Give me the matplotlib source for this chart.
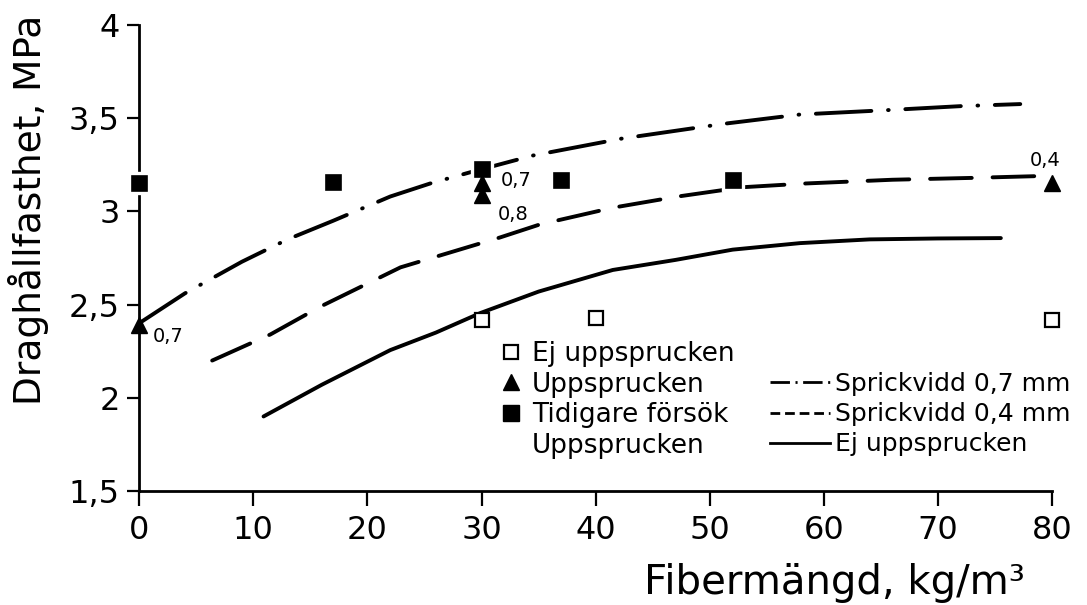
import matplotlib
matplotlib.use('Agg')
import matplotlib.pyplot as plt
from matplotlib.lines import Line2D

plt.rcParams['font.family'] = ['DejaVu Sans']
plt.rcParams['lines.scale_dashes'] = False

# points
open_x = [30, 40, 80]
open_y = [2.42, 2.43, 2.42]

tri_x = [0, 30, 30, 80]
tri_y = [2.39, 3.15, 3.09, 3.155]
tri_labels = ['0,7', '0,7', '0,8', '0,4']

prev_x = [0, 17, 30, 37, 52]
prev_y = [3.15, 3.16, 3.23, 3.17, 3.17]

# curves (hand drawn in the original)
c07_x = [0, 4, 9, 13, 17, 22, 25.5, 29, 34.5, 42.2, 51.2, 57.9, 66, 72, 77.2]
c07_y = [2.40, 2.56, 2.73, 2.85, 2.95, 3.08, 3.15, 3.21, 3.30, 3.39, 3.47, 3.52, 3.545, 3.565, 3.576]

c04_x = [6.4, 11.5, 15.9, 22.9, 31.6, 35.1, 41.5, 47.2, 52.9, 58.4, 66, 73, 79]
c04_y = [2.20, 2.34, 2.49, 2.70, 2.86, 2.93, 3.02, 3.08, 3.13, 3.15, 3.17, 3.18, 3.19]

c00_x = [10.9, 16, 22, 26, 29.9, 35, 41.5, 47, 52, 57.9, 64, 70, 75.5]
c00_y = [1.90, 2.07, 2.256, 2.35, 2.455, 2.57, 2.686, 2.74, 2.795, 2.83, 2.85, 2.855, 2.857]

x_ticks = [0, 10, 20, 30, 40, 50, 60, 70, 80]
y_ticks = [1.5, 2, 2.5, 3, 3.5, 4]
y_ticklabels = ['1,5', '2', '2,5', '3', '3,5', '4']

fig = plt.figure(figsize=(10.87, 6.05), dpi=100)
ax = fig.add_axes([0.128, 0.1884, 0.840, 0.7702])

lw = 2.8
ax.plot(c07_x, c07_y, color='black', lw=lw, dashes=(40, 12, 0.5, 12),
        dash_capstyle='round', solid_capstyle='round')
ax.plot(c04_x, c04_y, color='black', lw=lw, dashes=(30, 15),
        dash_capstyle='round')
ax.plot(c00_x, c00_y, color='black', lw=lw, solid_capstyle='round')

ax.plot(open_x, open_y, ls='none', marker='s', ms=10, mfc='white', mec='black',
        mew=1.6, clip_on=False, zorder=4)
ax.plot(prev_x, prev_y, ls='none', marker='s', ms=14.5, mfc='black', mec='white',
        mew=2.4, clip_on=False, zorder=4)
ax.plot(tri_x, tri_y, ls='none', marker='^', ms=11.5, mfc='black', mec='black',
        clip_on=False, zorder=5)

# small crack width labels at the triangles
offsets = [(10, -8), (14, 2), (12, -14), (-16, 16)]
for x, y, t, off in zip(tri_x, tri_y, tri_labels, offsets):
    ax.annotate(t, (x, y), xytext=off, textcoords='offset points',
                ha='left', va='center', fontsize=14)

ax.set_xlim(0, 80)
ax.set_ylim(1.5, 4)
ax.set_xticks(x_ticks)
ax.set_xticklabels([str(v) for v in x_ticks])
ax.set_yticks(y_ticks)
ax.set_yticklabels(y_ticklabels)

for s in ['top', 'right']:
    ax.spines[s].set_visible(False)
for s in ['left', 'bottom']:
    ax.spines[s].set_linewidth(2)
ax.tick_params(axis='x', direction='out', length=11, width=1.6, pad=6, labelsize=23)
ax.tick_params(axis='y', direction='out', length=9, width=1.6, pad=5, labelsize=23)

fig.text(0.026, 0.653, 'Draghållfasthet, MPa', rotation=90, ha='center',
         va='center', fontsize=27)
fig.text(0.768, 0.036, 'Fibermängd, kg/m³', ha='center', va='center', fontsize=29)

# legends
h_open = Line2D([], [], ls='none', marker='s', ms=10, mfc='white', mec='black', mew=1.6)
h_tri = Line2D([], [], ls='none', marker='^', ms=11.5, color='black')
h_prev = Line2D([], [], ls='none', marker='s', ms=12, color='black')
h_none = Line2D([], [], ls='none')
leg1 = fig.legend([h_open, h_tri, h_prev, h_none],
                  ['Ej uppsprucken', 'Uppsprucken', 'Tidigare försök', 'Uppsprucken'],
                  loc='upper left', bbox_to_anchor=(500 / 1087, 1 - 341 / 605),
                  frameon=False, fontsize=19, handlelength=0.8, handletextpad=0.4,
                  labelspacing=0.175, borderpad=0, borderaxespad=0)

h07 = Line2D([], [], color='black', lw=2, dashes=(14, 4, 1.5, 4))
h04 = Line2D([], [], color='black', lw=2, dashes=(7, 3.5))
h00 = Line2D([], [], color='black', lw=2)
leg2 = fig.legend([h07, h04, h00],
                  ['Sprickvidd 0,7 mm', 'Sprickvidd 0,4 mm', 'Ej uppsprucken'],
                  loc='upper left', bbox_to_anchor=(770 / 1087, 1 - 372 / 605),
                  frameon=False, fontsize=18, handlelength=2.4, handletextpad=0.2,
                  labelspacing=0.25, borderpad=0, borderaxespad=0)

fig.savefig('out.png', dpi=100)
